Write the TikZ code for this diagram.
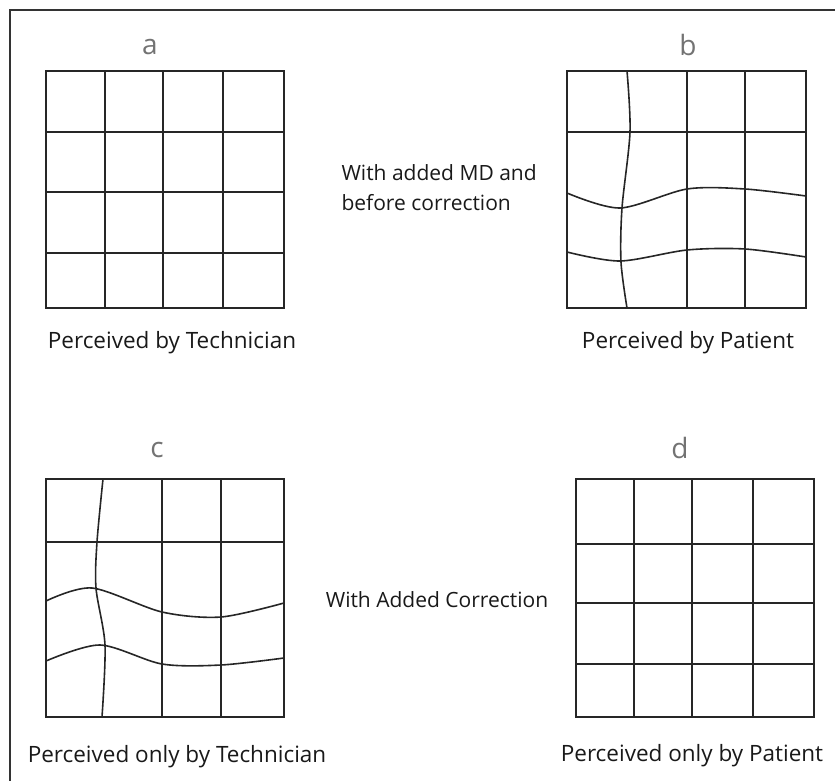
\documentclass[tikz,border=0pt]{standalone}
\usepackage{fontspec}
\setmainfont{Open Sans}
\usetikzlibrary{positioning}

\begin{document}
\begin{tikzpicture}[x=1pt,y=-1pt,
  grid/.style={line width=1.6pt,black!85},
  captext/.style={font=\fontsize{22.5}{30}\selectfont,text=black!90},
  note/.style={font=\fontsize{21}{30}\selectfont,text=black!90},
  tag/.style={font=\fontsize{28}{30}\selectfont,text=black!55}]
\useasboundingbox (0,0) rectangle (835,781);
\draw[line width=1.6pt,black!80] (10,781) -- (10,10) -- (835,10);

% a: undistorted grid
\draw[grid] (46,71) rectangle (284,308);
\foreach \x in {105,163,223} \draw[grid] (\x,71) -- (\x,308);
\foreach \y in {132,192,253} \draw[grid] (46,\y) -- (284,\y);
\node[tag] (taga) at (150,47) {a};
\node[captext] (capa) at (172,343) {Perceived by Technician};

% b: distorted grid
\draw[grid] (567,71) rectangle (806,308);
\foreach \x in {687,745} \draw[grid] (\x,71) -- (\x,308);
\draw[grid] (567,132) -- (806,132);
\draw[grid] plot[smooth] coordinates {(627,71) (630,132) (622,208) (621,262) (627,308)};
\draw[grid] plot[smooth] coordinates {(567,193) (620,208) (687,189) (745,189) (806,196)};
\draw[grid] plot[smooth] coordinates {(567,252) (620,261) (687,250) (745,249) (806,257)};
\node[tag] (tagb) at (688,45) {b};
\node[captext] (capb) at (688,343) {Perceived by Patient};

\node[note,anchor=west,align=left] (mdnote) at (338,188) {With added MD and\\before correction};

% c: correction seen on an undistorted view
\draw[grid] (46,479) rectangle (284,717);
\foreach \x in {162,221} \draw[grid] (\x,479) -- (\x,717);
\draw[grid] (46,542) -- (284,542);
\draw[grid] plot[smooth] coordinates {(103,479) (97,542) (96,588) (105,645) (102,717)};
\draw[grid] plot[smooth] coordinates {(46,601) (92,588) (162,612) (221,617) (284,603)};
\draw[grid] plot[smooth] coordinates {(46,661) (100,645) (162,664) (221,665) (284,658)};
\node[tag] (tagc) at (157,450) {c};
\node[captext] (capc) at (177,757) {Perceived only by Technician};

% d: corrected grid
\draw[grid] (576,479) rectangle (814,717);
\foreach \x in {634,692,753} \draw[grid] (\x,479) -- (\x,717);
\foreach \y in {544,603,664} \draw[grid] (576,\y) -- (814,\y);
\node[tag] (tagd) at (680,448) {d};
\node[captext] (capd) at (692,756) {Perceived only by Patient};

\node[note] (cornote) at (437,600) {With Added Correction};
\end{tikzpicture}
\end{document}
